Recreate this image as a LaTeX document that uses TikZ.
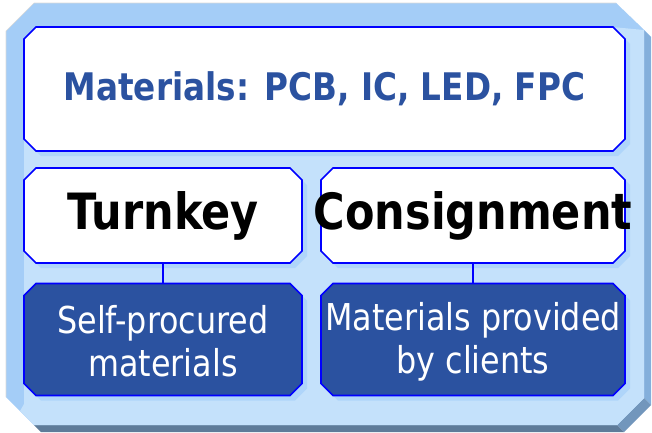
\documentclass[tikz,border=0pt]{standalone}
\usepackage{fontspec}
\setmainfont{DejaVu Sans}[FakeStretch=0.86]
\usetikzlibrary{calc}
\definecolor{medium}{HTML}{A4CDF7}
\definecolor{lightface}{HTML}{C4E1FB}
\definecolor{shadowblue}{HTML}{AFD5FA}
\definecolor{rightext}{HTML}{84AFDB}
\definecolor{bottomext}{HTML}{5E7B99}
\definecolor{cornerext}{HTML}{7296BC}
\definecolor{boxline}{HTML}{0000FF}
\definecolor{darkfill}{HTML}{2B52A0}
\definecolor{titleblue}{HTML}{2B52A0}
% #1 style, #2 node, #3 chamfer, #4 dx, #5 dy
\newcommand\octbox[5]{%
  \path[#1]
    ($(#2.north west)+(#3+#4,#5)$) -- ($(#2.north east)+(-#3+#4,#5)$) --
    ($(#2.north east)+(#4,#3+#5)$) -- ($(#2.south east)+(#4,-#3+#5)$) --
    ($(#2.south east)+(-#3+#4,#5)$) -- ($(#2.south west)+(#3+#4,#5)$) --
    ($(#2.south west)+(#4,-#3+#5)$) -- ($(#2.north west)+(#4,#3+#5)$) -- cycle;}
\tikzset{
  holder/.style={inner sep=0pt, outer sep=0pt},
  conn/.style={draw=boxline, line width=1.7pt},
  whiteline/.style={fill=white, draw=boxline, line width=1.7pt},
  darkline/.style={fill=darkfill, draw=boxline, line width=1.7pt},
  shadowfill/.style={fill=shadowblue},
  titletext/.style={text=titleblue, font=\bfseries\fontsize{38}{40}\selectfont},
  bigtext/.style={text=black, font=\bfseries\fontsize{50}{52}\selectfont},
  whitetext/.style={text=white, align=center, font=\fontsize{37}{43}\selectfont},
}
\begin{document}
\begin{tikzpicture}[x=1pt, y=-1pt]
\useasboundingbox (0,0) rectangle (652,432);
% outer bevelled frame
\fill[rightext] (644,30) -- (651,37) -- (651,405) -- (644,398) -- cycle;
\fill[medium!70!rightext] (616,3) -- (644,30) -- (651,37) -- (623,10) -- cycle;
\fill[cornerext] (644,398) -- (651,405) -- (624,432) -- (617,425) -- cycle;
\fill[bottomext] (34,425) -- (617,425) -- (624,432) -- (41,432) -- cycle;
\fill[medium] (34,3) -- (616,3) -- (644,30) -- (644,398) -- (617,425) -- (34,425) -- (6,397) -- (6,31) -- cycle;
\draw[black!15, line width=0.6pt] (34,3) -- (616,3) (6,397) -- (6,31) -- (34,3);
\fill[lightface] (40,27) -- (612,27) -- (644,30) -- (644,398) -- (617,425) -- (34,425) -- (20,411) -- (24,404) -- (24,43) -- cycle;
% box holders
\node[holder, minimum width=601, minimum height=124] (top) at (324.5,89) {};
\node[holder, minimum width=278, minimum height=95] (turn) at (163,215.5) {};
\node[holder, minimum width=304, minimum height=95] (cons) at (473,215.5) {};
\node[holder, minimum width=278, minimum height=112] (self) at (163,339.5) {};
\node[holder, minimum width=304, minimum height=112] (prov) at (473,339.5) {};
% shadows
\foreach \n in {top,turn,cons,self,prov} {\octbox{shadowfill}{\n}{12}{5}{5}}
% connectors
\draw[conn] (turn.south) -- (self.north);
\draw[conn] (cons.south) -- (prov.north);
% boxes
\octbox{whiteline}{top}{12}{0}{0}
\octbox{whiteline}{turn}{12}{0}{0}
\octbox{whiteline}{cons}{12}{0}{0}
\octbox{darkline}{self}{12}{0}{0}
\octbox{darkline}{prov}{12}{0}{0}
% texts
\node[titletext] (toptext) at (top.center) {\makebox[0pt][c]{Materials: PCB, IC, LED, FPC}};
\node[bigtext] (turntext) at (turn.center) {\makebox[0pt][c]{Turnkey}};
\node[bigtext] (constext) at (cons.center) {\makebox[0pt][c]{Consignment}};
\node[whitetext] (selftext) at ($(self.center)+(0,2)$) {Self-procured\\materials};
\node[whitetext] (provtext) at ($(prov.center)+(0,2)$) {Materials provided\\by clients};
\end{tikzpicture}
\end{document}
